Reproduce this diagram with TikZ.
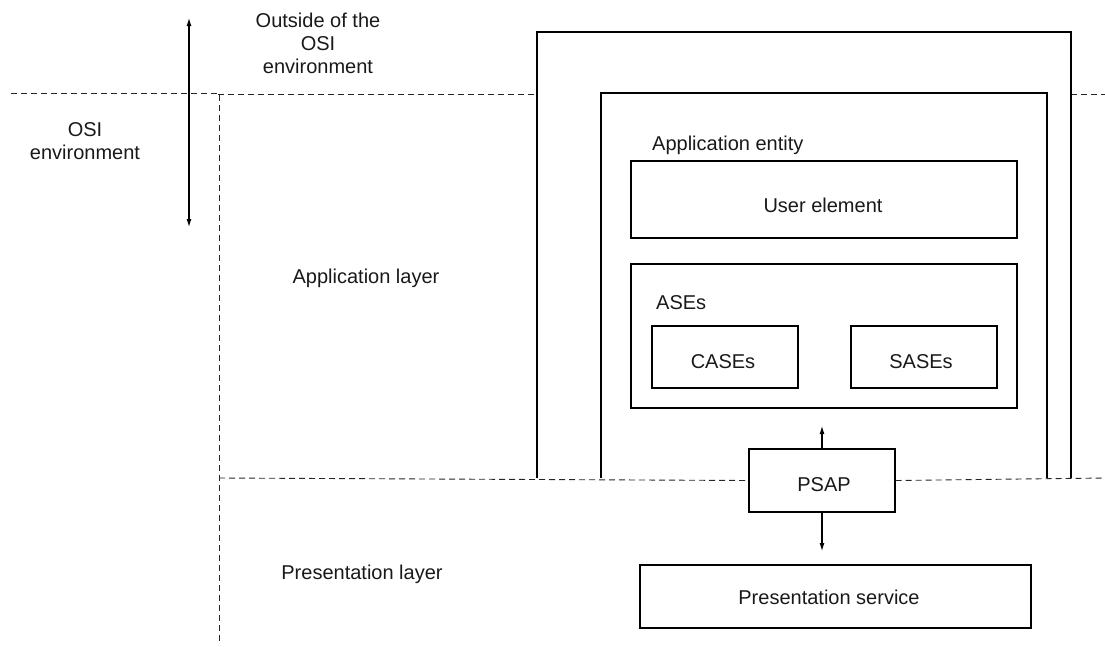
\documentclass[tikz,border=0pt]{standalone}
\usepackage{fontspec}
\setmainfont{Liberation Sans}
\usetikzlibrary{arrows.meta}
\begin{document}
\begin{tikzpicture}[x=1pt,y=-1pt,
  every node/.style={font=\fontsize{20}{23}\selectfont, text=black!90, inner sep=0pt},
  boxstyle/.style={draw=black, line width=1.1pt, fill=none, rectangle},
  frame/.style={draw=black, line width=1.1pt},
  dline/.style={draw=black!85, line width=0.9pt, dash pattern=on 6pt off 4pt},
  arr/.style={draw=black, line width=1.1pt, {Latex[length=8pt,width=5pt]}-{Latex[length=8pt,width=5pt]}},
  arrone/.style={draw=black, line width=1.1pt, -{Latex[length=8pt,width=5pt]}},
  txt/.style={anchor=base}
]
\useasboundingbox (0,0) rectangle (1105,646);

% dashed layer boundaries
\coordinate (d1a) at (11,93);
\coordinate (d1b) at (218,93);
\coordinate (d2a) at (218,94.5);
\coordinate (d2b) at (537,94.5);
\coordinate (d3a) at (1071,94.5);
\coordinate (d3b) at (1105,94.5);
\coordinate (v1a) at (219,94.5);
\coordinate (v1b) at (219,642);
\coordinate (h1a) at (219,478);
\coordinate (h2b) at (1105,478);
\draw[dline] (d1a) -- (d1b);
\draw[dline] (d2a) -- (d2b);
\draw[dline] (d3a) -- (d3b);
\draw[dline] (v1a) -- (v1b);

% outer and inner frames (open at the bottom)
\coordinate (oA) at (537,478);
\coordinate (oB) at (537,32);
\coordinate (oC) at (1071,32);
\coordinate (oD) at (1071,478);
\draw[frame] (oA) -- (oB) -- (oC) -- (oD);
\coordinate (iA) at (601,478);
\coordinate (iB) at (601,93);
\coordinate (iC) at (1047,93);
\coordinate (iD) at (1047,478);
\draw[frame] (iA) -- (iB) -- (iC) -- (iD);

% boxes
\node[boxstyle, minimum width=386pt, minimum height=77pt] (ue) at (824,199.5) {};
\node[boxstyle, minimum width=386pt, minimum height=144pt] (ases) at (824,336) {};
\node[boxstyle, minimum width=146pt, minimum height=62pt] (cases) at (725,357) {};
\node[boxstyle, minimum width=146pt, minimum height=62pt] (sases) at (924,357) {};
\node[boxstyle, minimum width=146pt, minimum height=63pt, fill=white] (psap) at (822,480.5) {};
\node[boxstyle, minimum width=391pt, minimum height=63pt] (ps) at (835.5,596.5) {};

\draw[dline] (h1a) -- (psap.west);
\draw[dline] (psap.east) -- (h2b);

% arrows
\coordinate (la) at (189,18);
\coordinate (lb) at (189,227);
\draw[arr] (la) -- (lb);
\coordinate (pu) at (822,426);
\coordinate (pd) at (822,551);
\draw[arrone] (psap.north) -- (pu);
\draw[arrone] (psap.south) -- (pd);

% texts
\node[align=center] (outside) at (318,43) {Outside of the\\OSI\\environment};
\node[align=center] (osienv) at (85,141) {OSI\\environment};
\node[txt] (applayer) at (366,283) {Application layer};
\node[txt] (preslayer) at (362,579) {Presentation layer};
\node[txt, anchor=base west] (aent) at (652,150) {Application entity};
\node[txt, anchor=base west] (asest) at (656,309) {ASEs};
\node[txt] (uet) at (823,212) {User element};
\node[txt] (casest) at (723,368) {CASEs};
\node[txt] (sasest) at (921,368) {SASEs};
\node[txt] (psapt) at (824,491) {PSAP};
\node[txt] (pst) at (829,604) {Presentation service};
\end{tikzpicture}
\end{document}
